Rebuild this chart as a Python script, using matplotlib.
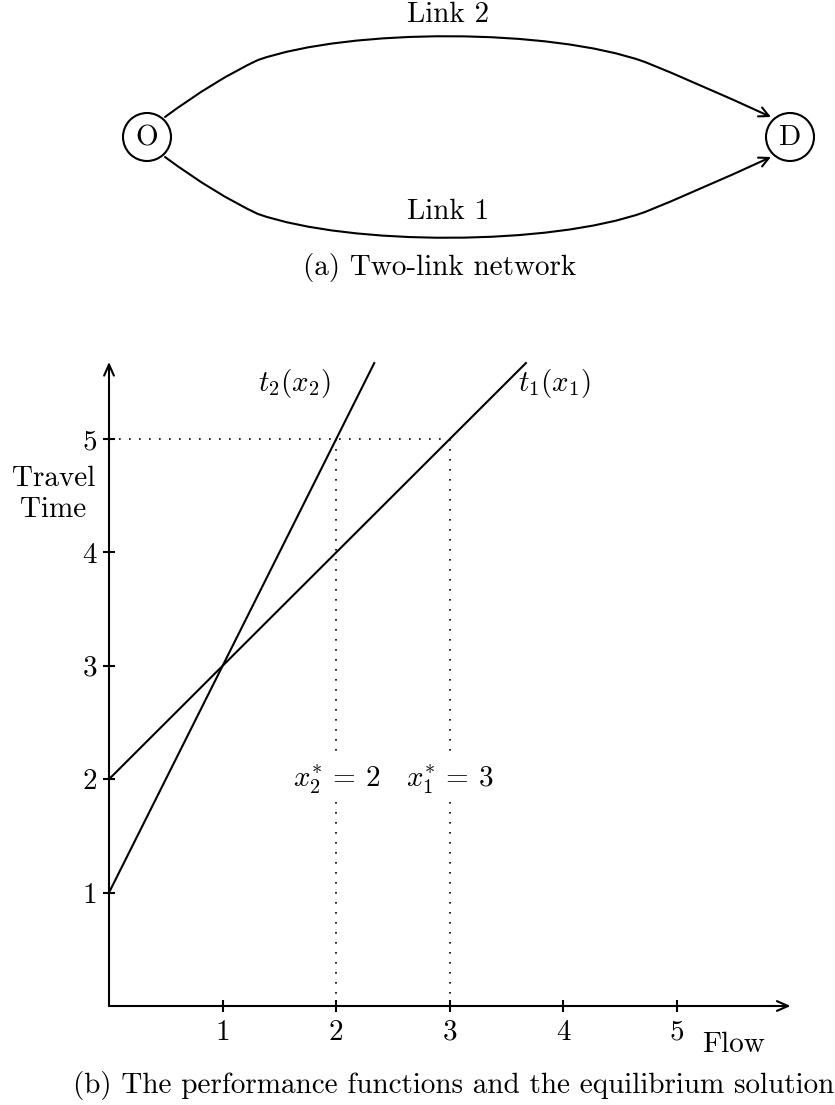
import matplotlib
matplotlib.use("Agg")
import matplotlib.pyplot as plt
from matplotlib.patches import Circle, FancyArrowPatch
from matplotlib.path import Path

plt.rcParams['font.family'] = 'serif'
plt.rcParams['font.serif'] = ['cmr10']
plt.rcParams['mathtext.fontset'] = 'cm'
plt.rcParams['axes.formatter.use_mathtext'] = True

# performance functions t1 = 2 + x1, t2 = 1 + 2*x2
t1_flow = [0, 3.67]
t1_time = [2, 5.67]
t2_flow = [0, 2.335]
t2_time = [1, 5.67]

x_ticks = [1, 2, 3, 4, 5]
y_ticks = [1, 2, 3, 4, 5]
tick_labels = ["1", "2", "3", "4", "5"]

eq_x2 = 2
eq_x1 = 3
eq_time = 5

FS = 21

fig = plt.figure(figsize=(8.35, 11.05), dpi=100)

# ---- (a) network, drawn in pixel space ----
net = fig.add_axes([0, 0, 1, 1])
net.set_xlim(0, 835)
net.set_ylim(1105, 0)
net.axis('off')

nodes = {"O": (147, 137), "D": (790, 137)}
for name, (cx, cy) in nodes.items():
    net.add_patch(Circle((cx, cy), 24, fill=False, lw=1.5, ec='black'))
    net.text(cx, cy + 1, name, fontsize=FS, ha='center', va='center')

M, C3, C4 = Path.MOVETO, Path.CURVE3, Path.CURVE4
upper = Path([(165, 117), (215, 80), (258, 60),
              (350, 28), (550, 28), (645, 62),
              (695, 82), (771, 117)],
             [M, C3, C3, C4, C4, C4, C3, C3])
lower = Path([(165, 157), (215, 194), (258, 214),
              (350, 246), (550, 246), (645, 212),
              (695, 192), (771, 157)],
             [M, C3, C3, C4, C4, C4, C3, C3])
for p in (upper, lower):
    net.add_patch(FancyArrowPatch(path=p, arrowstyle='->,head_length=0.5,head_width=0.25',
                                  mutation_scale=14, lw=1.5, color='black'))

net.text(448, 15, "Link 2", fontsize=FS, ha='center', va='center')
net.text(448, 212, "Link 1", fontsize=FS, ha='center', va='center')
net.text(440, 268, "(a) Two-link network", fontsize=FS, ha='center', va='center')
net.text(454, 1086, "(b) The performance functions and the equilibrium solution",
         fontsize=FS, ha='center', va='center')

# ---- (b) performance functions ----
ax = fig.add_axes([0.13054, 0.08959, 0.8435, 0.5952])
ax.set_xlim(0, 6.2)
ax.set_ylim(0, 5.8)
for s in ax.spines.values():
    s.set_visible(False)
ax.patch.set_alpha(0)

arrow = dict(arrowstyle='->,head_length=0.5,head_width=0.22', lw=1.5,
             color='black', shrinkA=0, shrinkB=0, mutation_scale=16)
ax.annotate("", xy=(6.0, 0), xytext=(0, 0), arrowprops=arrow, annotation_clip=False)
ax.annotate("", xy=(0, 5.68), xytext=(0, 0), arrowprops=arrow, annotation_clip=False)

ax.set_xticks(x_ticks, tick_labels)
ax.set_yticks(y_ticks, tick_labels)
ax.tick_params(direction='inout', length=9, width=1.5, labelsize=FS,
               top=False, right=False)
ax.tick_params(axis='x', pad=5)
ax.tick_params(axis='y', pad=4)

ax.plot(t1_flow, t1_time, color='black', lw=1.5, clip_on=False)
ax.plot(t2_flow, t2_time, color='black', lw=1.5, clip_on=False)

dot = dict(color='black', lw=1.2, linestyle=(0, (1, 5)))
ax.plot([0, eq_x1], [eq_time, eq_time], **dot)
for xv in (eq_x2, eq_x1):
    ax.plot([xv, xv], [eq_time, 2.24], **dot)
    ax.plot([xv, xv], [1.8, 0], **dot)

ax.text(eq_x2, 2.0, r"$x_2^{*}\,=\,2$", fontsize=FS, ha='center', va='center')
ax.text(eq_x1, 2.0, r"$x_1^{*}\,=\,3$", fontsize=FS, ha='center', va='center')
ax.text(1.63, 5.49, r"$t_2(x_2)$", fontsize=FS, ha='center', va='center')
ax.text(3.92, 5.49, r"$t_1(x_1)$", fontsize=FS, ha='center', va='center')
ax.text(-0.49, 4.51, "Travel\nTime", fontsize=FS, ha='center', va='center',
        linespacing=1.25)
ax.text(5.5, -0.34, "Flow", fontsize=FS, ha='center', va='center')

fig.savefig("out.png", dpi=100)
